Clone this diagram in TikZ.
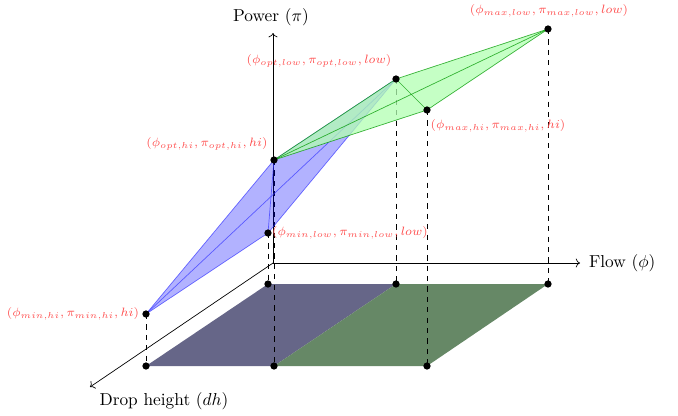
\documentclass[tikz,border=0pt]{standalone}
\usetikzlibrary{arrows.meta}
\definecolor{gblue}{RGB}{102,102,136}
\definecolor{ggreen}{RGB}{102,136,102}
\begin{document}
\begin{tikzpicture}[x=0.578pt,y=-0.578pt,
  axis/.style={->,black},
  drop/.style={dashed,black},
  dot/.style={circle,fill=black,inner sep=0pt,minimum size=4.2pt},
  lbl/.style={red!70,font=\fontsize{7.5}{9}\selectfont},
  bluesurf/.style={fill=blue,fill opacity=0.3},
  blueline/.style={blue!80,opacity=0.7},
  greensurf/.style={fill=green!30,fill opacity=0.75},
  greenline/.style={green!60!black,opacity=0.75}]
\useasboundingbox (0,0) rectangle (678,415);
% coordinates
\coordinate (O) at (273,263);
\coordinate (Pend) at (273,33);
\coordinate (Fend) at (580,263);
\coordinate (Dend) at (90,387);
\coordinate (minlo) at (268,233);
\coordinate (optlo) at (396,79);
\coordinate (maxlo) at (548,29);
\coordinate (minhi) at (146,314);
\coordinate (opthi) at (274,160);
\coordinate (maxhi) at (427,110);
\coordinate (gminlo) at (268,284);
\coordinate (goptlo) at (396,284);
\coordinate (gmaxlo) at (548,284);
\coordinate (gminhi) at (146,366);
\coordinate (gopthi) at (274,366);
\coordinate (gmaxhi) at (427,366);
% ground
\fill[gblue] (gminhi) -- (gopthi) -- (goptlo) -- (gminlo) -- cycle;
\fill[ggreen] (gopthi) -- (gmaxhi) -- (gmaxlo) -- (goptlo) -- cycle;
% axes
\draw[axis] (O) -- (Pend);
\draw[axis] (O) -- (Fend);
\draw[axis] (O) -- (Dend);
\node (tP) at (271,17) {Power ($\pi$)};
\node[anchor=west] (tF) at (583,263) {Flow ($\phi$)};
\node (tD) at (164,401) {Drop height ($dh$)};
% drop lines
\foreach \p in {minlo,optlo,maxlo,minhi,opthi,maxhi}
  \draw[drop] (\p) -- (g\p);
% blue surface
\fill[bluesurf] (minhi) -- (opthi) -- (optlo) -- (minlo) -- cycle;
\draw[blueline] (minhi) -- (opthi) -- (optlo) -- (minlo) -- cycle;
\draw[blueline] (minhi) -- (optlo);
\draw[blueline] (opthi) -- (minlo);
% green surface
\fill[greensurf] (opthi) -- (optlo) -- (maxlo) -- (maxhi) -- cycle;
\draw[greenline] (opthi) -- (optlo) -- (maxlo) -- (maxhi) -- cycle;
\draw[greenline] (opthi) -- (maxlo);
\draw[greenline] (optlo) -- (maxhi);
% dots
\foreach \p in {minlo,optlo,maxlo,minhi,opthi,maxhi,gminlo,goptlo,gmaxlo,gminhi,gopthi,gmaxhi}
  \node[dot] (d\p) at (\p) {};
% labels
\node[lbl] (lmaxlo) at (549,11) {$(\phi_{max,low},\pi_{max,low},low)$};
\node[lbl] (loptlo) at (319,61) {$(\phi_{opt,low},\pi_{opt,low},low)$};
\node[lbl] (lmaxhi) at (498,126) {$(\phi_{max,hi},\pi_{max,hi},hi)$};
\node[lbl] (lopthi) at (207,144) {$(\phi_{opt,hi},\pi_{opt,hi},hi)$};
\node[lbl] (lminlo) at (350,233) {$(\phi_{min,low},\pi_{min,low},low)$};
\node[lbl] (lminhi) at (73,314) {$(\phi_{min,hi},\pi_{min,hi},hi)$};
\end{tikzpicture}
\end{document}
